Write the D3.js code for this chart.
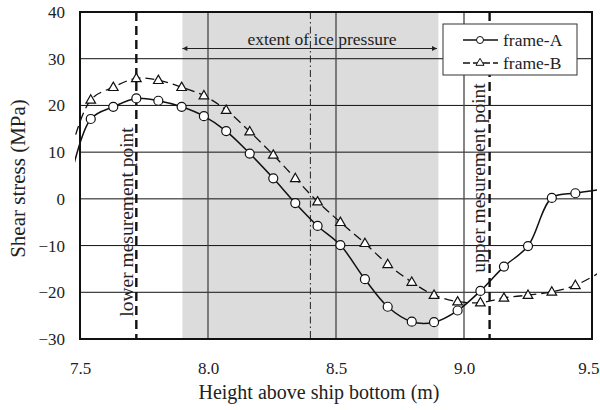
<!DOCTYPE html>
<html>
<head>
<meta charset="utf-8">
<script src="https://cdn.jsdelivr.net/npm/d3@7"></script>
<style>
  body { margin: 0; background: #fff; }
  svg text { font-family: "Liberation Serif", "Times New Roman", serif; fill: #222; }
</style>
</head>
<body>
<svg id="chart" width="600" height="410"></svg>
<script>
// values
const heights = [7.453, 7.542, 7.630, 7.720, 7.806, 7.897, 7.984, 8.071, 8.163, 8.255, 8.341, 8.428,
                 8.517, 8.613, 8.702, 8.796, 8.883, 8.975, 9.064, 9.156, 9.250, 9.343, 9.435, 9.523];
const frameA = [2, 17.1, 19.7, 21.5, 21.0, 19.7, 17.7, 14.5, 9.7, 4.4, -0.9, -5.8,
                -9.9, -17.2, -23.1, -26.3, -26.4, -23.9, -19.7, -14.5, -10.1, 0.2, 1.2, 1.9];
const frameB = [8, 21.2, 23.9, 25.8, 25.4, 23.9, 22.1, 19.0, 14.4, 9.4, 4.4, -0.6,
                -5.0, -9.5, -14.0, -17.8, -20.6, -22.0, -22.2, -21.2, -20.6, -19.9, -18.5, -16.0];
const xTicks = [7.5, 8.0, 8.5, 9.0, 9.5];
const yTicks = [-30, -20, -10, 0, 10, 20, 30, 40];
const gridX = [8.0, 8.5, 9.0];
const icePressure = [7.9, 8.9];
const measurePoints = [7.72, 9.1];
const centreLine = 8.4;

const svg = d3.select("#chart");
const W = 600, H = 410;
const m = {top: 12, right: 8, bottom: 71, left: 80};

const x = d3.scaleLinear().domain([7.5, 9.5]).range([m.left, W - m.right]);
const y = d3.scaleLinear().domain([-30, 40]).range([H - m.bottom, m.top]);

const defs = svg.append("defs");
defs.append("clipPath").attr("id", "clip")
    .append("rect").attr("x", 75).attr("y", 0).attr("width", 522).attr("height", H);
["start", "end"].forEach((k) => {
    defs.append("marker")
        .attr("id", "arr-" + k)
        .attr("viewBox", "0 -4 8 8")
        .attr("refX", k == "end" ? 8 : 0).attr("refY", 0)
        .attr("markerWidth", 6).attr("markerHeight", 5)
        .attr("markerUnits", "userSpaceOnUse")
        .attr("orient", "auto")
        .append("path")
        .attr("d", k == "end" ? "M0,-4L8,0L0,4Z" : "M8,-4L0,0L8,4Z")
        .attr("fill", "#222");
});

// shaded ice pressure area
svg.append("rect")
    .attr("x", x(icePressure[0])).attr("y", y(40))
    .attr("width", x(icePressure[1]) - x(icePressure[0]))
    .attr("height", y(-30) - y(40))
    .attr("fill", "#dcdcdc");

// horizontal grid
svg.append("g").selectAll("line").data(yTicks).enter().append("line")
    .attr("x1", x(7.5)).attr("x2", x(9.5))
    .attr("y1", d => y(d)).attr("y2", d => y(d))
    .attr("stroke", "#111").attr("stroke-width", 1);

// vertical grid
svg.append("g").selectAll("line").data(gridX).enter().append("line")
    .attr("x1", d => x(d)).attr("x2", d => x(d))
    .attr("y1", y(40)).attr("y2", y(-30))
    .attr("stroke", "#444").attr("stroke-width", 1.3);

// centre of ice pressure (dash-dot)
svg.append("line")
    .attr("x1", x(centreLine)).attr("x2", x(centreLine))
    .attr("y1", y(40)).attr("y2", y(-30))
    .attr("stroke", "#222").attr("stroke-width", 1)
    .attr("stroke-dasharray", "7,3,1.5,3");

// measurement points
svg.append("g").selectAll("line").data(measurePoints).enter().append("line")
    .attr("x1", d => x(d)).attr("x2", d => x(d))
    .attr("y1", y(40)).attr("y2", y(-30))
    .attr("stroke", "#111").attr("stroke-width", 2.4)
    .attr("stroke-dasharray", "9,5");

svg.append("text")
    .attr("transform", `translate(${x(measurePoints[0]) - 3},222) rotate(-90)`)
    .attr("text-anchor", "middle")
    .style("font-size", "19.5px")
    .text("lower mesurement point");
svg.append("text")
    .attr("transform", `translate(${x(measurePoints[1]) - 5},178) rotate(-90)`)
    .attr("text-anchor", "middle")
    .style("font-size", "19.5px")
    .text("upper mesurement point");

// extent arrow
svg.append("line")
    .attr("x1", x(icePressure[0])).attr("x2", 437)
    .attr("y1", 48.5).attr("y2", 48.5)
    .attr("stroke", "#222").attr("stroke-width", 1)
    .attr("marker-start", "url(#arr-start)")
    .attr("marker-end", "url(#arr-end)");
svg.append("text")
    .attr("x", 322).attr("y", 45)
    .attr("text-anchor", "middle")
    .style("font-size", "17.5px")
    .text("extent of ice pressure");

// axes
const yAxis = svg.append("g")
    .attr("transform", `translate(${m.left},0)`)
    .call(d3.axisLeft(y).tickValues(yTicks).tickSize(0).tickPadding(15));
const xAxis = svg.append("g")
    .attr("transform", `translate(0,${H - m.bottom})`)
    .call(d3.axisBottom(x).tickValues(xTicks).tickFormat(d3.format(".1f")).tickSize(0).tickPadding(23));
[yAxis, xAxis].forEach((a) => {
    a.select(".domain").remove();
    a.selectAll("text").style("font-size", "17px").attr("fill", "#222")
        .style("font-family", "'Liberation Serif', serif");
});
// last label sits against the right edge
xAxis.selectAll(".tick").filter(d => d == 9.5).select("text")
    .attr("text-anchor", "end").attr("x", 7);

svg.append("text")
    .attr("transform", `translate(25,178.5) rotate(-90)`)
    .attr("text-anchor", "middle")
    .style("font-size", "21px")
    .text("Shear stress (MPa)");
svg.append("text")
    .attr("x", 319).attr("y", 399)
    .attr("text-anchor", "middle")
    .style("font-size", "20px")
    .text("Height above ship bottom (m)");

// plot border
svg.append("rect")
    .attr("x", m.left).attr("y", m.top)
    .attr("width", W - m.left - m.right).attr("height", H - m.top - m.bottom)
    .attr("fill", "none").attr("stroke", "#111").attr("stroke-width", 2);

// series
const series = [
    {name: "frame-A", values: frameA, dash: null, width: 1.5, mark: "circle"},
    {name: "frame-B", values: frameB, dash: "9,5", width: 1.3, mark: "triangle"}
];
const line = d3.line()
    .x(d => x(d[0])).y(d => y(d[1]))
    .curve(d3.curveCatmullRom.alpha(0.5));

function drawMark(g, kind) {
    if (kind == "circle")
        g.append("circle").attr("r", 4.5)
            .attr("fill", "#fff").attr("stroke", "#111").attr("stroke-width", 1.2);
    else
        g.append("path").attr("d", d3.symbol(d3.symbolTriangle, 40)())
            .attr("transform", "translate(0,0.5)")
            .attr("fill", "#fff").attr("stroke", "#111").attr("stroke-width", 1.2);
}

series.forEach((s) => {
    const pts = heights.map((h, i) => [h, s.values[i]]);
    svg.append("path")
        .attr("clip-path", "url(#clip)")
        .attr("d", line(pts))
        .attr("fill", "none").attr("stroke", "#111")
        .attr("stroke-width", s.width)
        .attr("stroke-dasharray", s.dash);
    svg.append("g").selectAll("g")
        .data(pts.filter(p => p[0] >= 7.5 && p[0] <= 9.5))
        .enter().append("g")
        .attr("transform", d => `translate(${x(d[0])},${y(d[1])})`)
        .each(function() { drawMark(d3.select(this), s.mark); });
});

// legend
const lg = svg.append("g").attr("transform", "translate(443,24)");
lg.append("rect").attr("width", 134).attr("height", 51)
    .attr("fill", "#fff").attr("stroke", "#333").attr("stroke-width", 1);
series.forEach((s, i) => {
    const row = lg.append("g").attr("transform", `translate(0,${16 + i * 23})`);
    row.append("line").attr("x1", 20).attr("x2", 55)
        .attr("stroke", "#111").attr("stroke-width", 1.5)
        .attr("stroke-dasharray", s.dash ? "7,3" : null);
    const mk = row.append("g").attr("transform", "translate(37,0)");
    if (s.mark == "circle")
        mk.append("circle").attr("r", 3.5).attr("fill", "#fff").attr("stroke", "#111");
    else
        mk.append("path").attr("d", d3.symbol(d3.symbolTriangle, 28)())
            .attr("fill", "#fff").attr("stroke", "#111");
    row.append("text").attr("x", 60).attr("y", 5.5)
        .style("font-size", "17.5px").text(s.name);
});
</script>
</body>
</html>
